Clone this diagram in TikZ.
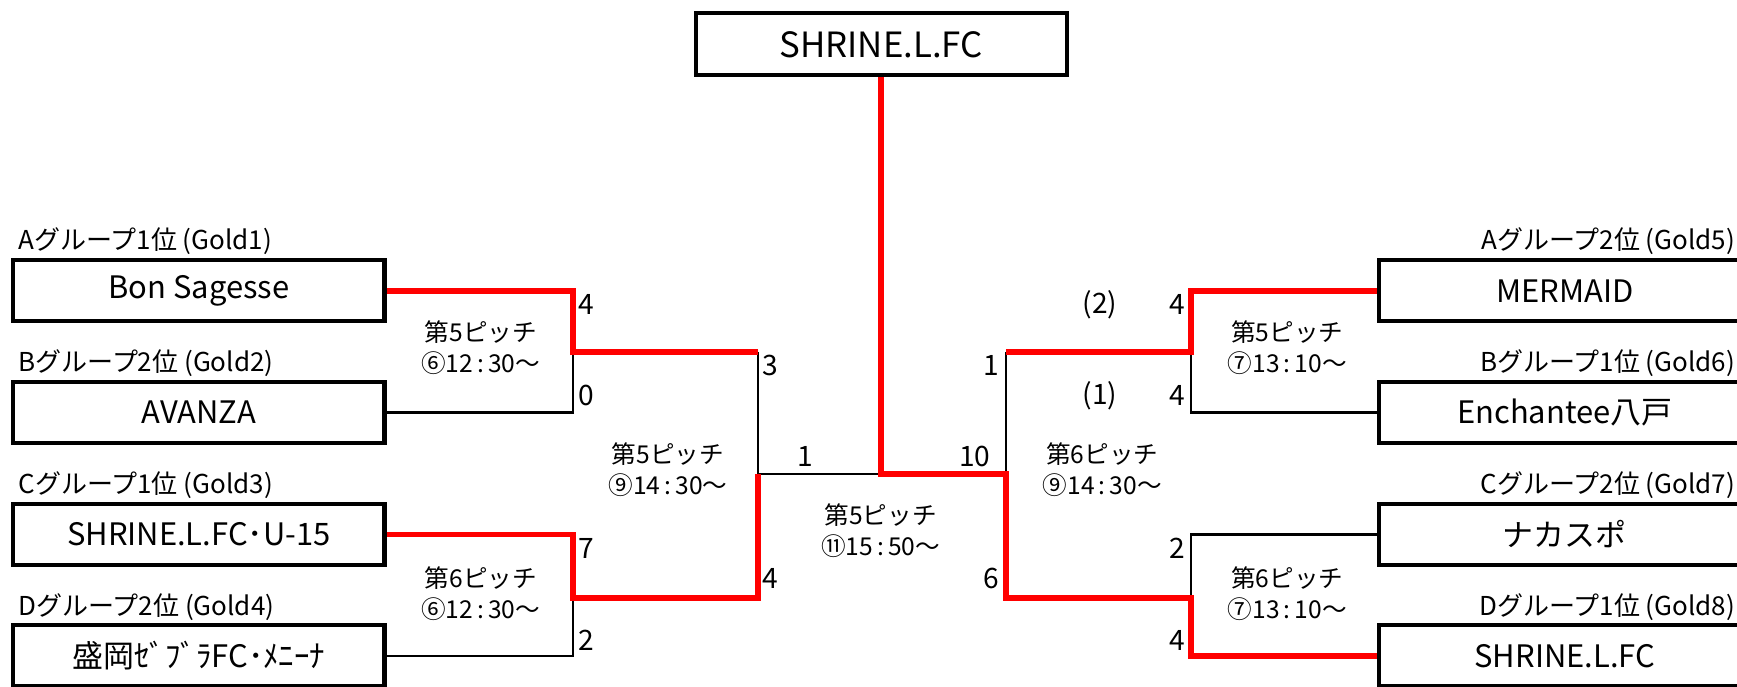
\documentclass[tikz,border=0pt]{standalone}
\usepackage{fontspec}
\setmainfont{Noto Sans CJK JP}
\newcommand{\cln}{\,:\,}
\begin{document}
\begin{tikzpicture}[x=0.01108cm,y=-0.01108cm,
  team/.style={draw, line width=1.2pt, minimum width=3.712cm, minimum height=0.609cm, inner sep=0pt, font=\fontsize{8.8}{10}\selectfont},
  grp/.style={inner sep=0pt, font=\fontsize{7.4}{9}\selectfont},
  pitch/.style={align=center, inner sep=0pt, font=\fontsize{7}{8.8}\selectfont},
  score/.style={inner sep=0pt, font=\fontsize{8}{9}\selectfont},
  win/.style={red, line width=1.6pt},
  lose/.style={black, line width=0.65pt}]
\useasboundingbox (0,0) rectangle (1568,620);
\clip (0,0) rectangle (1568,620);

% champion
\node[team, minimum height=0.62cm, font=\fontsize{9.9}{11}\selectfont] (champ) at (795.5,40) {SHRINE.L.FC};

% left teams
\node[team] (bon) at (179.5,262.5) {Bon Sagesse};
\node[team] (avanza) at (179.5,372.5) {AVANZA};
\node[team] (u15) at (179.5,482.5) {SHRINE.L.FC･U-15};
\node[team] (morioka) at (179.5,592) {盛岡ｾﾞﾌﾞﾗFC･ﾒﾆｰﾅ};
% right teams
\node[team] (mermaid) at (1412.5,262.5) {MERMAID};
\node[team] (ench) at (1412.5,372.5) {Enchantee八戸};
\node[team] (naka) at (1412.5,482.5) {ナカスポ};
\node[team] (shrine) at (1412.5,592) {SHRINE.L.FC};

% group labels
\node[grp, anchor=west] (g1) at (16,218) {Aグループ1位 (Gold1)};
\node[grp, anchor=west] (g2) at (16,328) {Bグループ2位 (Gold2)};
\node[grp, anchor=west] (g3) at (16,438) {Cグループ1位 (Gold3)};
\node[grp, anchor=west] (g4) at (16,548) {Dグループ2位 (Gold4)};
\node[grp, anchor=east] (g5) at (1567,218) {Aグループ2位 (Gold5)};
\node[grp, anchor=east] (g6) at (1567,328) {Bグループ1位 (Gold6)};
\node[grp, anchor=east] (g7) at (1567,438) {Cグループ2位 (Gold7)};
\node[grp, anchor=east] (g8) at (1567,548) {Dグループ1位 (Gold8)};

% junctions
\coordinate (q1) at (517,318);
\coordinate (q2) at (517,540);
\coordinate (s1) at (684,428);
\coordinate (f) at (795.5,428);
\coordinate (s2) at (908,428);
\coordinate (q3) at (1075,318);
\coordinate (q4) at (1075,540);

% losing lines
\draw[lose] (avanza.east) -| (q1);
\draw[lose] (morioka.east) -| (q2);
\draw[lose] (q1 -| s1) -- (s1) -- (f);
\draw[lose] (q3 -| s2) -- (s2);
\draw[lose] (q3) |- (ench.west);
\draw[lose] (q4) |- (naka.west);

% winning lines
\draw[win] (bon.east) -| (q1) -- (q1 -| s1);
\draw[win] (u15.east) -| (q2) -- (q2 -| s1) -- (s1);
\draw[win] (champ.south) -- (f) -- (s2) -- (q4 -| s2) -- (q4) |- (shrine.west);
\draw[win] (q3 -| s2) -- (q3) |- (mermaid.west);

% pitch / time labels
\node[pitch] (p1) at (434,314) {第5ピッチ\\⑥12\cln30～};
\node[pitch] (p2) at (434,536) {第6ピッチ\\⑥12\cln30～};
\node[pitch] (p3) at (603,424) {第5ピッチ\\⑨14\cln30～};
\node[pitch] (p4) at (795,479) {第5ピッチ\\⑪15\cln50～};
\node[pitch] (p5) at (995,424) {第6ピッチ\\⑨14\cln30～};
\node[pitch] (p6) at (1162,314) {第5ピッチ\\⑦13\cln10～};
\node[pitch] (p7) at (1162,536) {第6ピッチ\\⑦13\cln10～};

% scores
\node[score] (a1) at (529,275) {4};
\node[score] (a2) at (529,357) {0};
\node[score] (a3) at (529,495) {7};
\node[score] (a4) at (529,578) {2};
\node[score] (a5) at (695,330) {3};
\node[score] (a6) at (695,522) {4};
\node[score] (a7) at (727,412) {1};
\node[score] (a8) at (880,412) {10};
\node[score] (a9) at (895,330) {1};
\node[score] (a10) at (895,522) {6};
\node[score] (a11) at (1063,275) {4};
\node[score] (a12) at (1063,357) {4};
\node[score] (a13) at (1063,495) {2};
\node[score] (a14) at (1063,578) {4};
\node[score] (a15) at (993,275) {(2)};
\node[score] (a16) at (993,357) {(1)};
\end{tikzpicture}
\end{document}
